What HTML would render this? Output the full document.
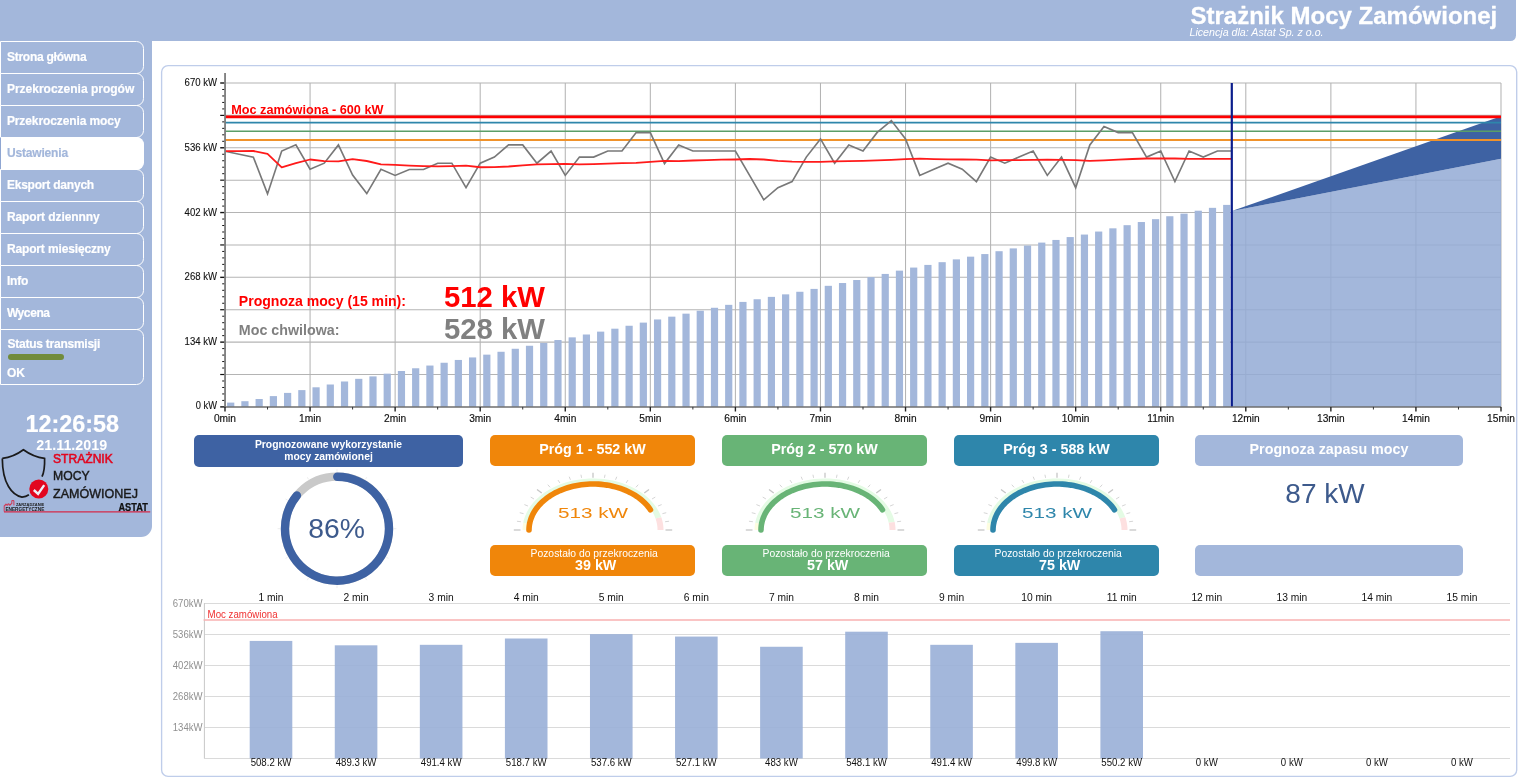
<!DOCTYPE html>
<html><head><meta charset="utf-8"><title>Strażnik Mocy Zamówionej</title>
<style>
html,body{margin:0;padding:0;background:#fff;}
body{width:1529px;height:781px;position:relative;overflow:hidden;will-change:transform;font-family:"Liberation Sans",sans-serif;}
.abs{position:absolute;}
svg text{font-family:"Liberation Sans",sans-serif;}
#hdr{position:absolute;left:0;top:0;width:1516px;height:41px;background:#a3b7db;border-bottom-right-radius:5.5px;}
#side{position:absolute;left:0;top:0;width:152px;height:537px;background:#a3b7db;border-bottom-right-radius:11px;}
#title{position:absolute;left:1190.5px;top:4.1px;font-size:24px;font-weight:bold;color:#fff;-webkit-text-stroke:0.3px #fff;white-space:nowrap;line-height:24px;}
#lic{position:absolute;left:1189.5px;top:27px;font-size:10.67px;font-style:italic;color:#fff;white-space:nowrap;line-height:11px;}
.mi{position:absolute;left:0;width:144px;height:33px;box-sizing:border-box;border:1.1px solid #fff;border-radius:0 7.5px 7.5px 0;color:#fff;font-weight:bold;font-size:12px;-webkit-text-stroke:0.2px currentColor;}
.mi span{position:absolute;left:5.9px;top:8.1px;line-height:14px;white-space:nowrap;}
.mi.sel{background:#fff;color:#a3b7db;border-left-color:#8fa6d2;}
.gbar{position:absolute;left:7px;top:23.6px;width:55.7px;height:6.2px;border-radius:3.1px;background:#718b3b;}
#time{position:absolute;left:0;width:144.6px;top:412.3px;text-align:center;color:#fff;font-weight:bold;font-size:23.4px;line-height:24px;-webkit-text-stroke:0.2px #fff;}
#date{position:absolute;left:0;width:143.5px;top:438px;text-align:center;color:#fff;font-weight:bold;font-size:14.3px;line-height:15px;}
#panel{position:absolute;left:161px;top:65px;width:1353.6px;height:708px;border:1.4px solid #c0cde9;border-radius:6.5px;box-sizing:content-box;}
.box{position:absolute;border-radius:5px;color:#fff;text-align:center;font-weight:bold;}
.box.t{top:435px;height:31px;font-size:14.3px;line-height:28.9px;}
.box.b{top:545px;height:31px;}
.box.b .l1{position:absolute;left:2.6px;right:0;top:2.8px;font-size:10px;font-weight:normal;line-height:12px;transform:scaleX(1.037);}
.box.b .l2{position:absolute;left:6.4px;right:0;top:13.2px;font-size:14.3px;line-height:15px;}
</style></head><body>
<div id="hdr"></div><div id="side"></div>
<div id="title">Strażnik Mocy Zamówionej</div>
<div id="lic">Licencja dla: Astat Sp. z o.o.</div>
<div class="mi" style="top:41.2px"><span style="letter-spacing:-0.25px">Strona główna</span></div>
<div class="mi" style="top:73.2px"><span style="letter-spacing:0px">Przekroczenia progów</span></div>
<div class="mi" style="top:105.2px"><span style="letter-spacing:-0.1px">Przekroczenia mocy</span></div>
<div class="mi sel" style="top:137.2px"><span style="letter-spacing:-0.16px">Ustawienia</span></div>
<div class="mi" style="top:169.2px"><span style="letter-spacing:-0.21px">Eksport danych</span></div>
<div class="mi" style="top:201.2px"><span style="letter-spacing:-0.09px">Raport dziennny</span></div>
<div class="mi" style="top:233.2px"><span style="letter-spacing:-0.14px">Raport miesięczny</span></div>
<div class="mi" style="top:265.2px"><span style="letter-spacing:-0.15px">Info</span></div>
<div class="mi" style="top:297.2px"><span style="letter-spacing:-0.4px">Wycena</span></div>
<div class="mi status" style="top:329.2px;height:55.6px"><span style="top:6.6px;left:6.6px;letter-spacing:-0.25px">Status transmisji</span><div class="gbar"></div><span style="top:35.9px">OK</span></div>
<div id="time">12:26:58</div>
<div id="date">21.11.2019</div>
<svg class="abs" style="left:0;top:440px" width="152" height="80" viewBox="0 440 152 80">
<path d="M2.3,458.4 C9.5,457.6 17,454.6 23.4,449.8 C30,454.6 37.5,457.6 44.6,458.4 C44.8,466 44.2,472 42,476.6" fill="none" stroke="#1a1a1a" stroke-width="1.7" stroke-linejoin="miter"/>
<path d="M2.3,458.4 C2.4,470 4,479 8.5,486.5 C12,492.5 16.5,496 22,497.1 C25,496.8 27,496 28.9,494.7" fill="none" stroke="#1a1a1a" stroke-width="1.7"/>
<circle cx="38.8" cy="489" r="9.5" fill="#e2061f"/>
<path d="M33.8,490 L38.1,493.9 L44.2,485.1" fill="none" stroke="#eef1f8" stroke-width="2.4" stroke-linecap="butt" stroke-linejoin="miter"/>
<text x="53" y="462.5" font-size="13.7" fill="#e2061f" stroke="#e2061f" stroke-width="0.6" textLength="59.8" lengthAdjust="spacingAndGlyphs">STRAŻNIK</text>
<text x="53" y="480.1" font-size="13.5" fill="#1a1a1a" stroke="#1a1a1a" stroke-width="0.45" textLength="36.6" lengthAdjust="spacingAndGlyphs">MOCY</text>
<text x="53" y="497.9" font-size="13.7" fill="#1a1a1a" stroke="#1a1a1a" stroke-width="0.45" textLength="85" lengthAdjust="spacingAndGlyphs">ZAMÓWIONEJ</text>
<text x="118.4" y="510.6" font-size="10.2" font-weight="bold" fill="#111" stroke="#111" stroke-width="0.25" textLength="29.4" lengthAdjust="spacingAndGlyphs">ASTAT</text>
<path d="M4.2,511.6 L4.2,505.6 L5.3,505.6 L5.3,504.2 L6.6,504.2 L6.6,505.2 L7.8,505.2 L7.8,503.9 L9.2,503.9 L9.2,505.2 L10.4,505.2 L10.4,504 L11.8,504 L11.8,500.6 L13.9,500.6 L13.9,505.4" fill="none" stroke="#e2061f" stroke-width="0.7"/>
<text x="15.9" y="505.7" font-size="3.9" font-weight="bold" fill="#1a1a1a" textLength="28.4" lengthAdjust="spacingAndGlyphs">ZARZĄDZANIE</text>
<text x="5.4" y="510.7" font-size="4.9" font-weight="bold" fill="#1a1a1a" textLength="38.9" lengthAdjust="spacingAndGlyphs">ENERGETYCZNE</text>
<line x1="4" y1="511.9" x2="150.2" y2="511.9" stroke="#d42a48" stroke-width="1.3"/>
</svg>
<svg class="abs" style="left:0;top:0" width="1529" height="781" viewBox="0 0 1529 781"><rect x="161.6" y="65.6" width="1355.1" height="710.8" rx="6.5" ry="6.5" fill="none" stroke="#bfcdea" stroke-width="1.35"/></svg>
<svg class="abs" style="left:0;top:0" width="1529" height="781" viewBox="0 0 1529 781">
<line x1="225.0" y1="374.51" x2="1501.0" y2="374.51" stroke="#b4b4b4" stroke-width="1.05"/>
<line x1="225.0" y1="342.12" x2="1501.0" y2="342.12" stroke="#b4b4b4" stroke-width="1.05"/>
<line x1="225.0" y1="309.73" x2="1501.0" y2="309.73" stroke="#b4b4b4" stroke-width="1.05"/>
<line x1="225.0" y1="277.34" x2="1501.0" y2="277.34" stroke="#b4b4b4" stroke-width="1.05"/>
<line x1="225.0" y1="244.95" x2="1501.0" y2="244.95" stroke="#b4b4b4" stroke-width="1.05"/>
<line x1="225.0" y1="212.56" x2="1501.0" y2="212.56" stroke="#b4b4b4" stroke-width="1.05"/>
<line x1="225.0" y1="180.17" x2="1501.0" y2="180.17" stroke="#b4b4b4" stroke-width="1.05"/>
<line x1="225.0" y1="147.78" x2="1501.0" y2="147.78" stroke="#b4b4b4" stroke-width="1.05"/>
<line x1="225.0" y1="115.39" x2="1501.0" y2="115.39" stroke="#b4b4b4" stroke-width="1.05"/>
<line x1="225.0" y1="83.00" x2="1501.0" y2="83.00" stroke="#b4b4b4" stroke-width="1.05"/>
<line x1="310.07" y1="83.0" x2="310.07" y2="406.9" stroke="#b4b4b4" stroke-width="1.05"/>
<line x1="395.13" y1="83.0" x2="395.13" y2="406.9" stroke="#b4b4b4" stroke-width="1.05"/>
<line x1="480.20" y1="83.0" x2="480.20" y2="406.9" stroke="#b4b4b4" stroke-width="1.05"/>
<line x1="565.27" y1="83.0" x2="565.27" y2="406.9" stroke="#b4b4b4" stroke-width="1.05"/>
<line x1="650.33" y1="83.0" x2="650.33" y2="406.9" stroke="#b4b4b4" stroke-width="1.05"/>
<line x1="735.40" y1="83.0" x2="735.40" y2="406.9" stroke="#b4b4b4" stroke-width="1.05"/>
<line x1="820.47" y1="83.0" x2="820.47" y2="406.9" stroke="#b4b4b4" stroke-width="1.05"/>
<line x1="905.53" y1="83.0" x2="905.53" y2="406.9" stroke="#b4b4b4" stroke-width="1.05"/>
<line x1="990.60" y1="83.0" x2="990.60" y2="406.9" stroke="#b4b4b4" stroke-width="1.05"/>
<line x1="1075.67" y1="83.0" x2="1075.67" y2="406.9" stroke="#b4b4b4" stroke-width="1.05"/>
<line x1="1160.73" y1="83.0" x2="1160.73" y2="406.9" stroke="#b4b4b4" stroke-width="1.05"/>
<line x1="1245.80" y1="83.0" x2="1245.80" y2="406.9" stroke="#b4b4b4" stroke-width="1.05"/>
<line x1="1330.87" y1="83.0" x2="1330.87" y2="406.9" stroke="#b4b4b4" stroke-width="1.05"/>
<line x1="1415.93" y1="83.0" x2="1415.93" y2="406.9" stroke="#b4b4b4" stroke-width="1.05"/>
<line x1="1501.00" y1="83.0" x2="1501.00" y2="406.9" stroke="#b4b4b4" stroke-width="1.05"/>
<rect x="227.10" y="402.60" width="7.2" height="4.30" fill="#a3b7db"/>
<rect x="241.33" y="401.20" width="7.2" height="5.70" fill="#a3b7db"/>
<rect x="255.56" y="399.00" width="7.2" height="7.90" fill="#a3b7db"/>
<rect x="269.79" y="396.10" width="7.2" height="10.80" fill="#a3b7db"/>
<rect x="284.02" y="392.90" width="7.2" height="14.00" fill="#a3b7db"/>
<rect x="298.25" y="390.10" width="7.2" height="16.80" fill="#a3b7db"/>
<rect x="312.47" y="387.30" width="7.2" height="19.60" fill="#a3b7db"/>
<rect x="326.70" y="384.50" width="7.2" height="22.40" fill="#a3b7db"/>
<rect x="340.93" y="381.49" width="7.2" height="25.41" fill="#a3b7db"/>
<rect x="355.16" y="378.83" width="7.2" height="28.07" fill="#a3b7db"/>
<rect x="369.39" y="376.39" width="7.2" height="30.51" fill="#a3b7db"/>
<rect x="383.62" y="373.66" width="7.2" height="33.24" fill="#a3b7db"/>
<rect x="397.85" y="371.00" width="7.2" height="35.90" fill="#a3b7db"/>
<rect x="412.08" y="368.27" width="7.2" height="38.63" fill="#a3b7db"/>
<rect x="426.31" y="365.55" width="7.2" height="41.35" fill="#a3b7db"/>
<rect x="440.54" y="362.75" width="7.2" height="44.15" fill="#a3b7db"/>
<rect x="454.76" y="359.95" width="7.2" height="46.95" fill="#a3b7db"/>
<rect x="468.99" y="357.44" width="7.2" height="49.46" fill="#a3b7db"/>
<rect x="483.22" y="354.64" width="7.2" height="52.26" fill="#a3b7db"/>
<rect x="497.45" y="351.77" width="7.2" height="55.13" fill="#a3b7db"/>
<rect x="511.68" y="348.77" width="7.2" height="58.13" fill="#a3b7db"/>
<rect x="525.91" y="345.76" width="7.2" height="61.14" fill="#a3b7db"/>
<rect x="540.14" y="342.96" width="7.2" height="63.94" fill="#a3b7db"/>
<rect x="554.37" y="340.02" width="7.2" height="66.88" fill="#a3b7db"/>
<rect x="568.60" y="337.36" width="7.2" height="69.54" fill="#a3b7db"/>
<rect x="582.82" y="334.50" width="7.2" height="72.40" fill="#a3b7db"/>
<rect x="597.05" y="331.63" width="7.2" height="75.27" fill="#a3b7db"/>
<rect x="611.28" y="328.69" width="7.2" height="78.21" fill="#a3b7db"/>
<rect x="625.51" y="325.75" width="7.2" height="81.15" fill="#a3b7db"/>
<rect x="639.74" y="322.61" width="7.2" height="84.29" fill="#a3b7db"/>
<rect x="653.97" y="319.46" width="7.2" height="87.44" fill="#a3b7db"/>
<rect x="668.20" y="316.66" width="7.2" height="90.24" fill="#a3b7db"/>
<rect x="682.43" y="313.66" width="7.2" height="93.24" fill="#a3b7db"/>
<rect x="696.66" y="310.72" width="7.2" height="96.18" fill="#a3b7db"/>
<rect x="710.89" y="307.78" width="7.2" height="99.12" fill="#a3b7db"/>
<rect x="725.12" y="304.84" width="7.2" height="102.06" fill="#a3b7db"/>
<rect x="739.34" y="301.91" width="7.2" height="104.99" fill="#a3b7db"/>
<rect x="753.57" y="299.25" width="7.2" height="107.65" fill="#a3b7db"/>
<rect x="767.80" y="296.87" width="7.2" height="110.03" fill="#a3b7db"/>
<rect x="782.03" y="294.35" width="7.2" height="112.55" fill="#a3b7db"/>
<rect x="796.26" y="291.77" width="7.2" height="115.13" fill="#a3b7db"/>
<rect x="810.49" y="288.90" width="7.2" height="118.00" fill="#a3b7db"/>
<rect x="824.72" y="285.82" width="7.2" height="121.08" fill="#a3b7db"/>
<rect x="838.95" y="283.03" width="7.2" height="123.87" fill="#a3b7db"/>
<rect x="853.18" y="280.02" width="7.2" height="126.88" fill="#a3b7db"/>
<rect x="867.40" y="277.08" width="7.2" height="129.82" fill="#a3b7db"/>
<rect x="881.63" y="273.93" width="7.2" height="132.97" fill="#a3b7db"/>
<rect x="895.86" y="270.64" width="7.2" height="136.26" fill="#a3b7db"/>
<rect x="910.09" y="267.57" width="7.2" height="139.33" fill="#a3b7db"/>
<rect x="924.32" y="264.91" width="7.2" height="141.99" fill="#a3b7db"/>
<rect x="938.55" y="262.18" width="7.2" height="144.72" fill="#a3b7db"/>
<rect x="952.78" y="259.38" width="7.2" height="147.52" fill="#a3b7db"/>
<rect x="967.01" y="256.66" width="7.2" height="150.24" fill="#a3b7db"/>
<rect x="981.24" y="254.07" width="7.2" height="152.83" fill="#a3b7db"/>
<rect x="995.47" y="251.20" width="7.2" height="155.70" fill="#a3b7db"/>
<rect x="1009.69" y="248.40" width="7.2" height="158.50" fill="#a3b7db"/>
<rect x="1023.92" y="245.54" width="7.2" height="161.36" fill="#a3b7db"/>
<rect x="1038.15" y="242.60" width="7.2" height="164.30" fill="#a3b7db"/>
<rect x="1052.38" y="239.94" width="7.2" height="166.96" fill="#a3b7db"/>
<rect x="1066.61" y="237.07" width="7.2" height="169.83" fill="#a3b7db"/>
<rect x="1080.84" y="234.56" width="7.2" height="172.34" fill="#a3b7db"/>
<rect x="1095.07" y="231.55" width="7.2" height="175.35" fill="#a3b7db"/>
<rect x="1109.30" y="228.33" width="7.2" height="178.57" fill="#a3b7db"/>
<rect x="1123.53" y="225.18" width="7.2" height="181.72" fill="#a3b7db"/>
<rect x="1137.76" y="222.03" width="7.2" height="184.87" fill="#a3b7db"/>
<rect x="1151.98" y="219.17" width="7.2" height="187.73" fill="#a3b7db"/>
<rect x="1166.21" y="216.23" width="7.2" height="190.67" fill="#a3b7db"/>
<rect x="1180.44" y="213.64" width="7.2" height="193.26" fill="#a3b7db"/>
<rect x="1194.67" y="210.71" width="7.2" height="196.19" fill="#a3b7db"/>
<rect x="1208.90" y="207.84" width="7.2" height="199.06" fill="#a3b7db"/>
<rect x="1223.13" y="204.90" width="7.2" height="202.00" fill="#a3b7db"/>
<polygon points="1231.8,211.1 1501.0,158.8 1501.0,406.9 1231.8,406.9" fill="#93aad5" fill-opacity="0.85"/>
<polygon points="1231.8,211.1 1501.0,116.2 1501.0,158.8" fill="#3e62a3"/>
<line x1="225.0" y1="140.05" x2="1501.0" y2="140.05" stroke="#f0922b" stroke-width="1.9"/>
<line x1="225.0" y1="131.34" x2="1501.0" y2="131.34" stroke="#5a9e68" stroke-width="1.5"/>
<line x1="225.0" y1="122.64" x2="1501.0" y2="122.64" stroke="#2e86ab" stroke-width="1.7"/>
<line x1="225.0" y1="116.84" x2="1501.0" y2="116.84" stroke="#ff0000" stroke-width="2.8"/>
<polyline points="225.00,151.20 239.18,154.20 253.36,157.10 267.53,193.90 281.71,151.00 295.89,144.75 310.07,169.25 324.24,163.20 338.42,144.90 352.60,175.10 366.78,193.60 380.96,169.25 395.13,175.40 409.31,169.50 423.49,169.50 437.67,163.20 451.84,163.20 466.02,187.70 480.20,163.20 494.38,157.10 508.56,144.90 522.73,144.90 536.91,163.20 551.09,151.00 565.27,175.40 579.44,157.10 593.62,157.10 607.80,151.00 621.98,151.00 636.16,132.60 650.33,132.60 664.51,163.60 678.69,144.90 692.87,151.00 707.04,151.00 721.22,151.00 735.40,151.00 749.58,175.40 763.76,199.80 777.93,187.70 792.11,181.60 806.29,157.10 820.47,138.90 834.64,163.20 848.82,144.90 863.00,151.00 877.18,132.40 891.36,120.60 905.53,138.90 919.71,175.40 933.89,169.25 948.07,163.20 962.24,169.25 976.42,181.60 990.60,157.10 1004.78,163.20 1018.96,157.10 1033.13,151.00 1047.31,175.40 1061.49,157.10 1075.67,187.70 1089.84,144.90 1104.02,126.50 1118.20,132.60 1132.38,132.60 1146.56,157.10 1160.73,151.00 1174.91,181.60 1189.09,151.00 1203.27,157.10 1217.44,151.00 1231.62,151.00" fill="none" stroke="#787878" stroke-width="1.65" stroke-linejoin="miter"/>
<polyline points="225.00,151.20 239.18,151.10 253.36,151.00 267.53,153.90 281.71,167.40 295.89,163.20 310.07,159.50 324.24,161.10 338.42,161.40 352.60,159.20 366.78,161.00 380.96,164.30 395.13,164.80 409.31,165.60 423.49,166.10 437.67,166.40 451.84,166.10 466.02,165.70 480.20,167.25 494.38,167.10 508.56,166.50 522.73,165.40 536.91,164.40 551.09,164.20 565.27,163.80 579.44,164.40 593.62,164.10 607.80,163.70 621.98,163.20 636.16,162.80 650.33,161.80 664.51,160.90 678.69,161.10 692.87,160.50 707.04,160.10 721.22,159.70 735.40,159.50 749.58,159.00 763.76,159.50 777.93,160.80 792.11,161.60 806.29,161.95 820.47,161.80 834.64,161.40 848.82,161.10 863.00,160.80 877.18,160.40 891.36,159.80 905.53,159.20 919.71,158.65 933.89,159.10 948.07,159.40 962.24,159.50 976.42,159.70 990.60,160.30 1004.78,160.10 1018.96,160.10 1033.13,159.90 1047.31,159.70 1061.49,159.90 1075.67,160.20 1089.84,160.90 1104.02,160.30 1118.20,159.60 1132.38,159.00 1146.56,158.50 1160.73,158.50 1174.91,158.50 1189.09,158.90 1203.27,158.90 1217.44,158.80 1231.62,158.80" fill="none" stroke="#ff1a1a" stroke-width="1.8" stroke-linejoin="round"/>
<line x1="1231.8" y1="83" x2="1231.8" y2="406.9" stroke="#0b1d8c" stroke-width="2.2"/>
<line x1="225.05" y1="73" x2="225.05" y2="407.7" stroke="#7c7c7c" stroke-width="1.8"/>
<line x1="224.1" y1="407.0" x2="1501.0" y2="407.0" stroke="#6e6e6e" stroke-width="1.7"/>
<line x1="220.2" y1="406.90" x2="224.2" y2="406.90" stroke="#111" stroke-width="1.4"/>
<line x1="222.2" y1="400.42" x2="224.2" y2="400.42" stroke="#111" stroke-width="1"/>
<line x1="222.2" y1="393.94" x2="224.2" y2="393.94" stroke="#111" stroke-width="1"/>
<line x1="222.2" y1="387.47" x2="224.2" y2="387.47" stroke="#111" stroke-width="1"/>
<line x1="222.2" y1="380.99" x2="224.2" y2="380.99" stroke="#111" stroke-width="1"/>
<line x1="220.2" y1="374.51" x2="224.2" y2="374.51" stroke="#111" stroke-width="1.2"/>
<line x1="222.2" y1="368.03" x2="224.2" y2="368.03" stroke="#111" stroke-width="1"/>
<line x1="222.2" y1="361.55" x2="224.2" y2="361.55" stroke="#111" stroke-width="1"/>
<line x1="222.2" y1="355.08" x2="224.2" y2="355.08" stroke="#111" stroke-width="1"/>
<line x1="222.2" y1="348.60" x2="224.2" y2="348.60" stroke="#111" stroke-width="1"/>
<line x1="220.2" y1="342.12" x2="224.2" y2="342.12" stroke="#111" stroke-width="1.4"/>
<line x1="222.2" y1="335.64" x2="224.2" y2="335.64" stroke="#111" stroke-width="1"/>
<line x1="222.2" y1="329.16" x2="224.2" y2="329.16" stroke="#111" stroke-width="1"/>
<line x1="222.2" y1="322.69" x2="224.2" y2="322.69" stroke="#111" stroke-width="1"/>
<line x1="222.2" y1="316.21" x2="224.2" y2="316.21" stroke="#111" stroke-width="1"/>
<line x1="220.2" y1="309.73" x2="224.2" y2="309.73" stroke="#111" stroke-width="1.2"/>
<line x1="222.2" y1="303.25" x2="224.2" y2="303.25" stroke="#111" stroke-width="1"/>
<line x1="222.2" y1="296.77" x2="224.2" y2="296.77" stroke="#111" stroke-width="1"/>
<line x1="222.2" y1="290.30" x2="224.2" y2="290.30" stroke="#111" stroke-width="1"/>
<line x1="222.2" y1="283.82" x2="224.2" y2="283.82" stroke="#111" stroke-width="1"/>
<line x1="220.2" y1="277.34" x2="224.2" y2="277.34" stroke="#111" stroke-width="1.4"/>
<line x1="222.2" y1="270.86" x2="224.2" y2="270.86" stroke="#111" stroke-width="1"/>
<line x1="222.2" y1="264.38" x2="224.2" y2="264.38" stroke="#111" stroke-width="1"/>
<line x1="222.2" y1="257.91" x2="224.2" y2="257.91" stroke="#111" stroke-width="1"/>
<line x1="222.2" y1="251.43" x2="224.2" y2="251.43" stroke="#111" stroke-width="1"/>
<line x1="220.2" y1="244.95" x2="224.2" y2="244.95" stroke="#111" stroke-width="1.2"/>
<line x1="222.2" y1="238.47" x2="224.2" y2="238.47" stroke="#111" stroke-width="1"/>
<line x1="222.2" y1="231.99" x2="224.2" y2="231.99" stroke="#111" stroke-width="1"/>
<line x1="222.2" y1="225.52" x2="224.2" y2="225.52" stroke="#111" stroke-width="1"/>
<line x1="222.2" y1="219.04" x2="224.2" y2="219.04" stroke="#111" stroke-width="1"/>
<line x1="220.2" y1="212.56" x2="224.2" y2="212.56" stroke="#111" stroke-width="1.4"/>
<line x1="222.2" y1="206.08" x2="224.2" y2="206.08" stroke="#111" stroke-width="1"/>
<line x1="222.2" y1="199.60" x2="224.2" y2="199.60" stroke="#111" stroke-width="1"/>
<line x1="222.2" y1="193.13" x2="224.2" y2="193.13" stroke="#111" stroke-width="1"/>
<line x1="222.2" y1="186.65" x2="224.2" y2="186.65" stroke="#111" stroke-width="1"/>
<line x1="220.2" y1="180.17" x2="224.2" y2="180.17" stroke="#111" stroke-width="1.2"/>
<line x1="222.2" y1="173.69" x2="224.2" y2="173.69" stroke="#111" stroke-width="1"/>
<line x1="222.2" y1="167.21" x2="224.2" y2="167.21" stroke="#111" stroke-width="1"/>
<line x1="222.2" y1="160.74" x2="224.2" y2="160.74" stroke="#111" stroke-width="1"/>
<line x1="222.2" y1="154.26" x2="224.2" y2="154.26" stroke="#111" stroke-width="1"/>
<line x1="220.2" y1="147.78" x2="224.2" y2="147.78" stroke="#111" stroke-width="1.4"/>
<line x1="222.2" y1="141.30" x2="224.2" y2="141.30" stroke="#111" stroke-width="1"/>
<line x1="222.2" y1="134.82" x2="224.2" y2="134.82" stroke="#111" stroke-width="1"/>
<line x1="222.2" y1="128.35" x2="224.2" y2="128.35" stroke="#111" stroke-width="1"/>
<line x1="222.2" y1="121.87" x2="224.2" y2="121.87" stroke="#111" stroke-width="1"/>
<line x1="220.2" y1="115.39" x2="224.2" y2="115.39" stroke="#111" stroke-width="1.2"/>
<line x1="222.2" y1="108.91" x2="224.2" y2="108.91" stroke="#111" stroke-width="1"/>
<line x1="222.2" y1="102.43" x2="224.2" y2="102.43" stroke="#111" stroke-width="1"/>
<line x1="222.2" y1="95.96" x2="224.2" y2="95.96" stroke="#111" stroke-width="1"/>
<line x1="222.2" y1="89.48" x2="224.2" y2="89.48" stroke="#111" stroke-width="1"/>
<line x1="220.2" y1="83.00" x2="224.2" y2="83.00" stroke="#111" stroke-width="1.4"/>
<line x1="225.00" y1="406.9" x2="225.00" y2="411.5" stroke="#222" stroke-width="1.4"/>
<line x1="267.53" y1="406.9" x2="267.53" y2="409.5" stroke="#333" stroke-width="1"/>
<line x1="310.07" y1="406.9" x2="310.07" y2="411.5" stroke="#222" stroke-width="1.4"/>
<line x1="352.60" y1="406.9" x2="352.60" y2="409.5" stroke="#333" stroke-width="1"/>
<line x1="395.13" y1="406.9" x2="395.13" y2="411.5" stroke="#222" stroke-width="1.4"/>
<line x1="437.67" y1="406.9" x2="437.67" y2="409.5" stroke="#333" stroke-width="1"/>
<line x1="480.20" y1="406.9" x2="480.20" y2="411.5" stroke="#222" stroke-width="1.4"/>
<line x1="522.73" y1="406.9" x2="522.73" y2="409.5" stroke="#333" stroke-width="1"/>
<line x1="565.27" y1="406.9" x2="565.27" y2="411.5" stroke="#222" stroke-width="1.4"/>
<line x1="607.80" y1="406.9" x2="607.80" y2="409.5" stroke="#333" stroke-width="1"/>
<line x1="650.33" y1="406.9" x2="650.33" y2="411.5" stroke="#222" stroke-width="1.4"/>
<line x1="692.87" y1="406.9" x2="692.87" y2="409.5" stroke="#333" stroke-width="1"/>
<line x1="735.40" y1="406.9" x2="735.40" y2="411.5" stroke="#222" stroke-width="1.4"/>
<line x1="777.93" y1="406.9" x2="777.93" y2="409.5" stroke="#333" stroke-width="1"/>
<line x1="820.47" y1="406.9" x2="820.47" y2="411.5" stroke="#222" stroke-width="1.4"/>
<line x1="863.00" y1="406.9" x2="863.00" y2="409.5" stroke="#333" stroke-width="1"/>
<line x1="905.53" y1="406.9" x2="905.53" y2="411.5" stroke="#222" stroke-width="1.4"/>
<line x1="948.07" y1="406.9" x2="948.07" y2="409.5" stroke="#333" stroke-width="1"/>
<line x1="990.60" y1="406.9" x2="990.60" y2="411.5" stroke="#222" stroke-width="1.4"/>
<line x1="1033.13" y1="406.9" x2="1033.13" y2="409.5" stroke="#333" stroke-width="1"/>
<line x1="1075.67" y1="406.9" x2="1075.67" y2="411.5" stroke="#222" stroke-width="1.4"/>
<line x1="1118.20" y1="406.9" x2="1118.20" y2="409.5" stroke="#333" stroke-width="1"/>
<line x1="1160.73" y1="406.9" x2="1160.73" y2="411.5" stroke="#222" stroke-width="1.4"/>
<line x1="1203.27" y1="406.9" x2="1203.27" y2="409.5" stroke="#333" stroke-width="1"/>
<line x1="1245.80" y1="406.9" x2="1245.80" y2="411.5" stroke="#222" stroke-width="1.4"/>
<line x1="1288.33" y1="406.9" x2="1288.33" y2="409.5" stroke="#333" stroke-width="1"/>
<line x1="1330.87" y1="406.9" x2="1330.87" y2="411.5" stroke="#222" stroke-width="1.4"/>
<line x1="1373.40" y1="406.9" x2="1373.40" y2="409.5" stroke="#333" stroke-width="1"/>
<line x1="1415.93" y1="406.9" x2="1415.93" y2="411.5" stroke="#222" stroke-width="1.4"/>
<line x1="1458.47" y1="406.9" x2="1458.47" y2="409.5" stroke="#333" stroke-width="1"/>
<line x1="1501.00" y1="406.9" x2="1501.00" y2="411.5" stroke="#222" stroke-width="1.4"/>
<text x="217" y="409.40" text-anchor="end" font-size="10" fill="#111" stroke="#111" stroke-width="0.12" textLength="21.2" lengthAdjust="spacingAndGlyphs">0 kW</text>
<text x="217" y="345.40" text-anchor="end" font-size="10" fill="#111" stroke="#111" stroke-width="0.12" textLength="32.4" lengthAdjust="spacingAndGlyphs">134 kW</text>
<text x="217" y="280.40" text-anchor="end" font-size="10" fill="#111" stroke="#111" stroke-width="0.12" textLength="32.4" lengthAdjust="spacingAndGlyphs">268 kW</text>
<text x="217" y="215.50" text-anchor="end" font-size="10" fill="#111" stroke="#111" stroke-width="0.12" textLength="32.4" lengthAdjust="spacingAndGlyphs">402 kW</text>
<text x="217" y="150.50" text-anchor="end" font-size="10" fill="#111" stroke="#111" stroke-width="0.12" textLength="32.4" lengthAdjust="spacingAndGlyphs">536 kW</text>
<text x="217" y="85.60" text-anchor="end" font-size="10" fill="#111" stroke="#111" stroke-width="0.12" textLength="32.4" lengthAdjust="spacingAndGlyphs">670 kW</text>
<text x="225.00" y="421.9" text-anchor="middle" font-size="10" fill="#111" stroke="#111" stroke-width="0.15" transform="translate(225.00,0) scale(1.02,1) translate(-225.00,0)">0min</text>
<text x="310.07" y="421.9" text-anchor="middle" font-size="10" fill="#111" stroke="#111" stroke-width="0.15" transform="translate(310.07,0) scale(1.02,1) translate(-310.07,0)">1min</text>
<text x="395.13" y="421.9" text-anchor="middle" font-size="10" fill="#111" stroke="#111" stroke-width="0.15" transform="translate(395.13,0) scale(1.02,1) translate(-395.13,0)">2min</text>
<text x="480.20" y="421.9" text-anchor="middle" font-size="10" fill="#111" stroke="#111" stroke-width="0.15" transform="translate(480.20,0) scale(1.02,1) translate(-480.20,0)">3min</text>
<text x="565.27" y="421.9" text-anchor="middle" font-size="10" fill="#111" stroke="#111" stroke-width="0.15" transform="translate(565.27,0) scale(1.02,1) translate(-565.27,0)">4min</text>
<text x="650.33" y="421.9" text-anchor="middle" font-size="10" fill="#111" stroke="#111" stroke-width="0.15" transform="translate(650.33,0) scale(1.02,1) translate(-650.33,0)">5min</text>
<text x="735.40" y="421.9" text-anchor="middle" font-size="10" fill="#111" stroke="#111" stroke-width="0.15" transform="translate(735.40,0) scale(1.02,1) translate(-735.40,0)">6min</text>
<text x="820.47" y="421.9" text-anchor="middle" font-size="10" fill="#111" stroke="#111" stroke-width="0.15" transform="translate(820.47,0) scale(1.02,1) translate(-820.47,0)">7min</text>
<text x="905.53" y="421.9" text-anchor="middle" font-size="10" fill="#111" stroke="#111" stroke-width="0.15" transform="translate(905.53,0) scale(1.02,1) translate(-905.53,0)">8min</text>
<text x="990.60" y="421.9" text-anchor="middle" font-size="10" fill="#111" stroke="#111" stroke-width="0.15" transform="translate(990.60,0) scale(1.02,1) translate(-990.60,0)">9min</text>
<text x="1075.67" y="421.9" text-anchor="middle" font-size="10" fill="#111" stroke="#111" stroke-width="0.15" transform="translate(1075.67,0) scale(1.02,1) translate(-1075.67,0)">10min</text>
<text x="1160.73" y="421.9" text-anchor="middle" font-size="10" fill="#111" stroke="#111" stroke-width="0.15" transform="translate(1160.73,0) scale(1.02,1) translate(-1160.73,0)">11min</text>
<text x="1245.80" y="421.9" text-anchor="middle" font-size="10" fill="#111" stroke="#111" stroke-width="0.15" transform="translate(1245.80,0) scale(1.02,1) translate(-1245.80,0)">12min</text>
<text x="1330.87" y="421.9" text-anchor="middle" font-size="10" fill="#111" stroke="#111" stroke-width="0.15" transform="translate(1330.87,0) scale(1.02,1) translate(-1330.87,0)">13min</text>
<text x="1415.93" y="421.9" text-anchor="middle" font-size="10" fill="#111" stroke="#111" stroke-width="0.15" transform="translate(1415.93,0) scale(1.02,1) translate(-1415.93,0)">14min</text>
<text x="1501.00" y="421.9" text-anchor="middle" font-size="10" fill="#111" stroke="#111" stroke-width="0.15" transform="translate(1501.00,0) scale(1.02,1) translate(-1501.00,0)">15min</text>
<text x="231.2" y="114.2" font-size="12.7" font-weight="bold" fill="#ff0000">Moc zamówiona - 600 kW</text>
<text x="238.8" y="305.7" font-size="14.1" font-weight="bold" fill="#ff0000" textLength="167.2" lengthAdjust="spacingAndGlyphs">Prognoza mocy (15 min):</text>
<text x="444" y="306.6" font-size="29.3" font-weight="bold" fill="#ff0000">512 kW</text>
<text x="238.8" y="334.6" font-size="14.1" font-weight="bold" fill="#808080" textLength="100.6" lengthAdjust="spacingAndGlyphs">Moc chwilowa:</text>
<text x="444" y="339" font-size="29.3" font-weight="bold" fill="#808080">528 kW</text>
</svg>
<div class="box t" style="left:194px;width:269px;top:435px;height:32px;background:#3e62a3;font-size:10.35px;line-height:12.1px;"><div style="margin-top:3.6px">Prognozowane wykorzystanie<br>mocy zamówionej</div></div>
<div class="box t" style="left:490px;width:205px;background:#f0860a;">Próg 1 - 552 kW</div>
<div class="box t" style="left:722px;width:205px;background:#68b476;">Próg 2 - 570 kW</div>
<div class="box t" style="left:954px;width:205px;background:#2e86ab;">Próg 3 - 588 kW</div>
<div class="box t" style="left:1195px;width:268px;background:#a3b7db;">Prognoza zapasu mocy</div>
<div class="box b" style="left:490px;width:205px;background:#f0860a;"><div class="l1">Pozostało do przekroczenia</div><div class="l2">39 kW</div></div>
<div class="box b" style="left:722px;width:205px;background:#68b476;"><div class="l1">Pozostało do przekroczenia</div><div class="l2">57 kW</div></div>
<div class="box b" style="left:954px;width:205px;background:#2e86ab;"><div class="l1">Pozostało do przekroczenia</div><div class="l2">75 kW</div></div>
<div class="box b" style="left:1195px;width:268px;background:#a3b7db;"></div>
<svg class="abs" style="left:0;top:0" width="1529" height="781" viewBox="0 0 1529 781">
<path d="M522.50,530.00 L522.50,529.82 L522.50,529.64 L522.50,529.46 L522.51,529.28 L522.51,529.10 L522.52,528.92 L522.52,528.74 L522.53,528.56 L522.53,528.38 L522.54,528.20 L522.55,528.02 L522.56,527.84 L522.57,527.66 L522.58,527.48 L522.60,527.30 L522.61,527.13 L522.62,526.95 L522.64,526.77 L522.65,526.59 L522.67,526.41 L522.69,526.23 L522.71,526.05 L522.73,525.87 L522.75,525.69 L522.77,525.51 L522.79,525.33 L522.81,525.15 L522.84,524.97 L522.86,524.80 L522.89,524.62 L522.91,524.44 L522.94,524.26 L522.97,524.08 L523.00,523.90 L523.03,523.72 L523.06,523.55 L523.09,523.37 L523.12,523.19 L523.15,523.01 L523.19,522.83 L529.13,523.53 L529.10,523.69 L529.07,523.85 L529.04,524.01 L529.01,524.17 L528.98,524.33 L528.95,524.49 L528.93,524.66 L528.90,524.82 L528.88,524.98 L528.85,525.14 L528.83,525.30 L528.81,525.46 L528.79,525.62 L528.77,525.79 L528.75,525.95 L528.73,526.11 L528.71,526.27 L528.69,526.43 L528.67,526.59 L528.66,526.76 L528.64,526.92 L528.63,527.08 L528.61,527.24 L528.60,527.40 L528.59,527.57 L528.58,527.73 L528.57,527.89 L528.56,528.05 L528.55,528.21 L528.54,528.38 L528.53,528.54 L528.53,528.70 L528.52,528.86 L528.51,529.03 L528.51,529.19 L528.51,529.35 L528.50,529.51 L528.50,529.68 L528.50,529.84 L528.50,530.00Z" fill="#fdfde0"/>
<path d="M523.19,522.83 L524.03,519.35 L525.19,515.91 L526.68,512.54 L528.48,509.25 L530.58,506.06 L532.98,502.98 L535.66,500.04 L538.62,497.23 L541.83,494.58 L545.28,492.09 L548.96,489.79 L552.85,487.67 L556.92,485.75 L561.17,484.05 L565.57,482.56 L570.09,481.29 L574.73,480.26 L579.45,479.46 L584.24,478.90 L589.06,478.58 L593.91,478.50 L598.75,478.67 L603.57,479.08 L608.33,479.73 L613.02,480.62 L617.62,481.74 L622.10,483.09 L626.44,484.66 L630.63,486.45 L634.64,488.44 L638.45,490.63 L642.04,493.00 L645.41,495.55 L648.52,498.27 L651.38,501.13 L653.96,504.13 L656.25,507.25 L658.24,510.47 L659.92,513.80 L661.29,517.19 L655.47,518.44 L654.22,515.37 L652.68,512.37 L650.86,509.46 L648.77,506.64 L646.41,503.93 L643.80,501.35 L640.95,498.90 L637.87,496.60 L634.58,494.45 L631.09,492.48 L627.43,490.68 L623.60,489.07 L619.62,487.65 L615.53,486.43 L611.32,485.41 L607.03,484.61 L602.67,484.03 L598.26,483.66 L593.83,483.50 L589.40,483.57 L584.98,483.86 L580.60,484.37 L576.28,485.09 L572.04,486.02 L567.90,487.16 L563.88,488.51 L559.99,490.05 L556.26,491.78 L552.71,493.69 L549.34,495.77 L546.18,498.02 L543.24,500.41 L540.54,502.94 L538.09,505.61 L535.89,508.38 L533.97,511.26 L532.32,514.23 L530.96,517.28 L529.90,520.38 L529.13,523.53Z" fill="#e4fbe4"/>
<path d="M661.29,517.19 L661.39,517.51 L661.50,517.82 L661.60,518.13 L661.70,518.45 L661.80,518.77 L661.90,519.08 L661.99,519.40 L662.08,519.71 L662.17,520.03 L662.25,520.35 L662.33,520.67 L662.41,520.99 L662.49,521.31 L662.56,521.62 L662.63,521.94 L662.70,522.26 L662.77,522.58 L662.83,522.90 L662.89,523.22 L662.94,523.55 L663.00,523.87 L663.05,524.19 L663.10,524.51 L663.14,524.83 L663.19,525.15 L663.23,525.48 L663.26,525.80 L663.30,526.12 L663.33,526.44 L663.36,526.77 L663.39,527.09 L663.41,527.41 L663.43,527.74 L663.45,528.06 L663.47,528.38 L663.48,528.71 L663.49,529.03 L663.49,529.35 L663.50,529.68 L663.50,530.00 L657.50,530.00 L657.50,529.71 L657.49,529.42 L657.49,529.12 L657.48,528.83 L657.47,528.54 L657.45,528.25 L657.44,527.96 L657.42,527.66 L657.40,527.37 L657.37,527.08 L657.35,526.79 L657.32,526.50 L657.28,526.21 L657.25,525.91 L657.21,525.62 L657.17,525.33 L657.13,525.04 L657.09,524.75 L657.04,524.46 L656.99,524.17 L656.94,523.88 L656.88,523.59 L656.83,523.30 L656.77,523.01 L656.71,522.73 L656.64,522.44 L656.57,522.15 L656.50,521.86 L656.43,521.57 L656.36,521.29 L656.28,521.00 L656.20,520.71 L656.12,520.43 L656.03,520.14 L655.95,519.86 L655.86,519.57 L655.76,519.29 L655.67,519.00 L655.57,518.72 L655.47,518.44Z" fill="#fde0e0"/>
<line x1="520.50" y1="530.00" x2="513.80" y2="530.00" stroke="#c6c6c6" stroke-width="1.3"/>
<line x1="520.90" y1="521.74" x2="516.95" y2="521.24" stroke="#d0d0d0" stroke-width="0.9"/>
<line x1="523.57" y1="513.68" x2="519.77" y2="512.70" stroke="#d0d0d0" stroke-width="0.9"/>
<line x1="527.96" y1="506.03" x2="524.39" y2="504.58" stroke="#d0d0d0" stroke-width="0.9"/>
<line x1="533.94" y1="498.96" x2="530.71" y2="497.08" stroke="#d0d0d0" stroke-width="0.9"/>
<line x1="541.73" y1="493.02" x2="537.00" y2="489.48" stroke="#c6c6c6" stroke-width="1.3"/>
<line x1="550.09" y1="487.28" x2="547.74" y2="484.70" stroke="#d0d0d0" stroke-width="0.9"/>
<line x1="559.86" y1="482.95" x2="558.04" y2="480.10" stroke="#d0d0d0" stroke-width="0.9"/>
<line x1="570.44" y1="479.78" x2="569.21" y2="476.74" stroke="#d0d0d0" stroke-width="0.9"/>
<line x1="581.58" y1="477.85" x2="580.95" y2="474.69" stroke="#d0d0d0" stroke-width="0.9"/>
<line x1="593.00" y1="477.70" x2="593.00" y2="472.70" stroke="#c6c6c6" stroke-width="1.3"/>
<line x1="604.42" y1="477.85" x2="605.05" y2="474.69" stroke="#d0d0d0" stroke-width="0.9"/>
<line x1="615.56" y1="479.78" x2="616.79" y2="476.74" stroke="#d0d0d0" stroke-width="0.9"/>
<line x1="626.14" y1="482.95" x2="627.96" y2="480.10" stroke="#d0d0d0" stroke-width="0.9"/>
<line x1="635.91" y1="487.28" x2="638.26" y2="484.70" stroke="#d0d0d0" stroke-width="0.9"/>
<line x1="644.27" y1="493.02" x2="649.00" y2="489.48" stroke="#c6c6c6" stroke-width="1.3"/>
<line x1="652.06" y1="498.96" x2="655.29" y2="497.08" stroke="#d0d0d0" stroke-width="0.9"/>
<line x1="658.04" y1="506.03" x2="661.61" y2="504.58" stroke="#d0d0d0" stroke-width="0.9"/>
<line x1="662.43" y1="513.68" x2="666.23" y2="512.70" stroke="#d0d0d0" stroke-width="0.9"/>
<line x1="665.10" y1="521.74" x2="669.05" y2="521.24" stroke="#d0d0d0" stroke-width="0.9"/>
<line x1="665.50" y1="530.00" x2="672.20" y2="530.00" stroke="#c6c6c6" stroke-width="1.3"/>
<path d="M529.00,530.00 L529.06,527.94 L529.26,525.89 L529.58,523.84 L530.02,521.81 L530.60,519.79 L531.29,517.79 L532.12,515.82 L533.06,513.88 L534.12,511.96 L535.31,510.09 L536.60,508.25 L538.02,506.46 L539.54,504.71 L541.16,503.02 L542.90,501.38 L544.73,499.80 L546.66,498.27 L548.68,496.82 L550.79,495.42 L552.98,494.10 L555.26,492.85 L557.61,491.67 L560.03,490.57 L562.52,489.55 L565.07,488.61 L567.67,487.75 L570.33,486.98 L573.03,486.30 L575.77,485.70 L578.55,485.19 L581.35,484.77 L584.18,484.44 L587.03,484.20 L589.88,484.05 L592.75,484.00 L595.61,484.04 L598.47,484.17 L601.32,484.39 L604.15,484.70 L606.96,485.11 L609.74,485.60 L612.49,486.18 L615.20,486.86 L617.86,487.61 L620.48,488.46 L623.04,489.38 L625.54,490.39 L627.97,491.47 L630.33,492.64 L632.62,493.88 L634.83,495.19 L636.96,496.57 L639.00,498.01 L640.94,499.53 L642.79,501.10 L644.54,502.73 L646.19,504.41 L647.73,506.15 L649.16,507.93 L650.47,509.76" fill="none" stroke="#f0860a" stroke-width="5.6" stroke-linecap="round"/>
<text x="593" y="517.8" text-anchor="middle" font-size="15" fill="#f0860a" textLength="70" lengthAdjust="spacingAndGlyphs">513 kW</text>
<path d="M754.50,530.00 L754.50,529.82 L754.50,529.64 L754.50,529.46 L754.51,529.28 L754.51,529.10 L754.52,528.92 L754.52,528.74 L754.53,528.56 L754.53,528.38 L754.54,528.20 L754.55,528.02 L754.56,527.84 L754.57,527.66 L754.58,527.48 L754.60,527.30 L754.61,527.13 L754.62,526.95 L754.64,526.77 L754.65,526.59 L754.67,526.41 L754.69,526.23 L754.71,526.05 L754.73,525.87 L754.75,525.69 L754.77,525.51 L754.79,525.33 L754.81,525.15 L754.84,524.97 L754.86,524.80 L754.89,524.62 L754.91,524.44 L754.94,524.26 L754.97,524.08 L755.00,523.90 L755.03,523.72 L755.06,523.55 L755.09,523.37 L755.12,523.19 L755.15,523.01 L755.19,522.83 L761.13,523.53 L761.10,523.69 L761.07,523.85 L761.04,524.01 L761.01,524.17 L760.98,524.33 L760.95,524.49 L760.93,524.66 L760.90,524.82 L760.88,524.98 L760.85,525.14 L760.83,525.30 L760.81,525.46 L760.79,525.62 L760.77,525.79 L760.75,525.95 L760.73,526.11 L760.71,526.27 L760.69,526.43 L760.67,526.59 L760.66,526.76 L760.64,526.92 L760.63,527.08 L760.61,527.24 L760.60,527.40 L760.59,527.57 L760.58,527.73 L760.57,527.89 L760.56,528.05 L760.55,528.21 L760.54,528.38 L760.53,528.54 L760.53,528.70 L760.52,528.86 L760.51,529.03 L760.51,529.19 L760.51,529.35 L760.50,529.51 L760.50,529.68 L760.50,529.84 L760.50,530.00Z" fill="#fdfde0"/>
<path d="M755.19,522.83 L756.06,519.23 L757.28,515.68 L758.85,512.20 L760.75,508.81 L762.97,505.53 L765.51,502.37 L768.35,499.35 L771.47,496.49 L774.87,493.79 L778.52,491.28 L782.40,488.97 L786.50,486.86 L790.79,484.97 L795.26,483.31 L799.88,481.88 L804.62,480.70 L809.47,479.76 L814.40,479.09 L819.38,478.66 L824.38,478.50 L829.40,478.60 L834.39,478.96 L839.33,479.57 L844.20,480.45 L848.97,481.57 L853.62,482.93 L858.12,484.54 L862.46,486.37 L866.61,488.43 L870.55,490.69 L874.26,493.16 L877.72,495.81 L880.91,498.63 L883.82,501.61 L886.44,504.74 L888.74,507.99 L890.72,511.36 L892.37,514.81 L893.67,518.35 L894.63,521.94 L888.71,522.73 L887.83,519.48 L886.63,516.29 L885.12,513.17 L883.31,510.13 L881.21,507.19 L878.82,504.37 L876.15,501.68 L873.23,499.13 L870.07,496.73 L866.67,494.51 L863.07,492.46 L859.28,490.61 L855.31,488.95 L851.18,487.50 L846.93,486.27 L842.56,485.26 L838.11,484.47 L833.59,483.91 L829.02,483.59 L824.44,483.50 L819.86,483.65 L815.30,484.03 L810.79,484.64 L806.36,485.48 L802.02,486.55 L797.79,487.84 L793.71,489.34 L789.78,491.05 L786.03,492.95 L782.47,495.04 L779.13,497.31 L776.03,499.74 L773.17,502.32 L770.57,505.05 L768.25,507.90 L766.21,510.86 L764.48,513.92 L763.05,517.07 L761.93,520.27 L761.13,523.53Z" fill="#e4fbe4"/>
<path d="M894.63,521.94 L894.67,522.14 L894.72,522.34 L894.76,522.54 L894.80,522.74 L894.84,522.94 L894.87,523.14 L894.91,523.34 L894.94,523.55 L894.98,523.75 L895.01,523.95 L895.04,524.15 L895.07,524.35 L895.10,524.55 L895.13,524.75 L895.16,524.95 L895.19,525.15 L895.21,525.35 L895.24,525.56 L895.26,525.76 L895.28,525.96 L895.30,526.16 L895.32,526.36 L895.34,526.56 L895.36,526.77 L895.38,526.97 L895.39,527.17 L895.41,527.37 L895.42,527.57 L895.43,527.78 L895.45,527.98 L895.46,528.18 L895.47,528.38 L895.47,528.58 L895.48,528.79 L895.49,528.99 L895.49,529.19 L895.50,529.39 L895.50,529.60 L895.50,529.80 L895.50,530.00 L889.50,530.00 L889.50,529.82 L889.50,529.63 L889.50,529.45 L889.49,529.27 L889.49,529.09 L889.48,528.90 L889.48,528.72 L889.47,528.54 L889.46,528.36 L889.45,528.17 L889.44,527.99 L889.43,527.81 L889.42,527.63 L889.40,527.44 L889.39,527.26 L889.37,527.08 L889.36,526.90 L889.34,526.72 L889.32,526.53 L889.30,526.35 L889.28,526.17 L889.26,525.99 L889.24,525.81 L889.21,525.62 L889.19,525.44 L889.16,525.26 L889.14,525.08 L889.11,524.90 L889.08,524.72 L889.05,524.53 L889.02,524.35 L888.99,524.17 L888.96,523.99 L888.93,523.81 L888.89,523.63 L888.86,523.45 L888.82,523.27 L888.78,523.09 L888.75,522.91 L888.71,522.73Z" fill="#fde0e0"/>
<line x1="752.50" y1="530.00" x2="745.80" y2="530.00" stroke="#c6c6c6" stroke-width="1.3"/>
<line x1="752.90" y1="521.74" x2="748.95" y2="521.24" stroke="#d0d0d0" stroke-width="0.9"/>
<line x1="755.57" y1="513.68" x2="751.77" y2="512.70" stroke="#d0d0d0" stroke-width="0.9"/>
<line x1="759.96" y1="506.03" x2="756.39" y2="504.58" stroke="#d0d0d0" stroke-width="0.9"/>
<line x1="765.94" y1="498.96" x2="762.71" y2="497.08" stroke="#d0d0d0" stroke-width="0.9"/>
<line x1="773.73" y1="493.02" x2="769.00" y2="489.48" stroke="#c6c6c6" stroke-width="1.3"/>
<line x1="782.09" y1="487.28" x2="779.74" y2="484.70" stroke="#d0d0d0" stroke-width="0.9"/>
<line x1="791.86" y1="482.95" x2="790.04" y2="480.10" stroke="#d0d0d0" stroke-width="0.9"/>
<line x1="802.44" y1="479.78" x2="801.21" y2="476.74" stroke="#d0d0d0" stroke-width="0.9"/>
<line x1="813.58" y1="477.85" x2="812.95" y2="474.69" stroke="#d0d0d0" stroke-width="0.9"/>
<line x1="825.00" y1="477.70" x2="825.00" y2="472.70" stroke="#c6c6c6" stroke-width="1.3"/>
<line x1="836.42" y1="477.85" x2="837.05" y2="474.69" stroke="#d0d0d0" stroke-width="0.9"/>
<line x1="847.56" y1="479.78" x2="848.79" y2="476.74" stroke="#d0d0d0" stroke-width="0.9"/>
<line x1="858.14" y1="482.95" x2="859.96" y2="480.10" stroke="#d0d0d0" stroke-width="0.9"/>
<line x1="867.91" y1="487.28" x2="870.26" y2="484.70" stroke="#d0d0d0" stroke-width="0.9"/>
<line x1="876.27" y1="493.02" x2="881.00" y2="489.48" stroke="#c6c6c6" stroke-width="1.3"/>
<line x1="884.06" y1="498.96" x2="887.29" y2="497.08" stroke="#d0d0d0" stroke-width="0.9"/>
<line x1="890.04" y1="506.03" x2="893.61" y2="504.58" stroke="#d0d0d0" stroke-width="0.9"/>
<line x1="894.43" y1="513.68" x2="898.23" y2="512.70" stroke="#d0d0d0" stroke-width="0.9"/>
<line x1="897.10" y1="521.74" x2="901.05" y2="521.24" stroke="#d0d0d0" stroke-width="0.9"/>
<line x1="897.50" y1="530.00" x2="904.20" y2="530.00" stroke="#c6c6c6" stroke-width="1.3"/>
<path d="M761.00,530.00 L761.06,527.94 L761.26,525.89 L761.58,523.84 L762.02,521.81 L762.60,519.79 L763.29,517.79 L764.12,515.82 L765.06,513.88 L766.12,511.96 L767.31,510.09 L768.60,508.25 L770.02,506.46 L771.54,504.71 L773.16,503.02 L774.90,501.38 L776.73,499.80 L778.66,498.27 L780.68,496.82 L782.79,495.42 L784.98,494.10 L787.26,492.85 L789.61,491.67 L792.03,490.57 L794.52,489.55 L797.07,488.61 L799.67,487.75 L802.33,486.98 L805.03,486.30 L807.77,485.70 L810.55,485.19 L813.35,484.77 L816.18,484.44 L819.03,484.20 L821.88,484.05 L824.75,484.00 L827.61,484.04 L830.47,484.17 L833.32,484.39 L836.15,484.70 L838.96,485.11 L841.74,485.60 L844.49,486.18 L847.20,486.86 L849.86,487.61 L852.48,488.46 L855.04,489.38 L857.54,490.39 L859.97,491.47 L862.33,492.64 L864.62,493.88 L866.83,495.19 L868.96,496.57 L871.00,498.01 L872.94,499.53 L874.79,501.10 L876.54,502.73 L878.19,504.41 L879.73,506.15 L881.16,507.93 L882.47,509.76" fill="none" stroke="#68b476" stroke-width="5.6" stroke-linecap="round"/>
<text x="825" y="517.8" text-anchor="middle" font-size="15" fill="#68b476" textLength="70" lengthAdjust="spacingAndGlyphs">513 kW</text>
<path d="M986.50,530.00 L986.50,529.82 L986.50,529.64 L986.50,529.46 L986.51,529.28 L986.51,529.10 L986.52,528.92 L986.52,528.74 L986.53,528.56 L986.53,528.38 L986.54,528.20 L986.55,528.02 L986.56,527.84 L986.57,527.66 L986.58,527.48 L986.60,527.30 L986.61,527.13 L986.62,526.95 L986.64,526.77 L986.65,526.59 L986.67,526.41 L986.69,526.23 L986.71,526.05 L986.73,525.87 L986.75,525.69 L986.77,525.51 L986.79,525.33 L986.81,525.15 L986.84,524.97 L986.86,524.80 L986.89,524.62 L986.91,524.44 L986.94,524.26 L986.97,524.08 L987.00,523.90 L987.03,523.72 L987.06,523.55 L987.09,523.37 L987.12,523.19 L987.15,523.01 L987.19,522.83 L993.13,523.53 L993.10,523.69 L993.07,523.85 L993.04,524.01 L993.01,524.17 L992.98,524.33 L992.95,524.49 L992.93,524.66 L992.90,524.82 L992.88,524.98 L992.85,525.14 L992.83,525.30 L992.81,525.46 L992.79,525.62 L992.77,525.79 L992.75,525.95 L992.73,526.11 L992.71,526.27 L992.69,526.43 L992.67,526.59 L992.66,526.76 L992.64,526.92 L992.63,527.08 L992.61,527.24 L992.60,527.40 L992.59,527.57 L992.58,527.73 L992.57,527.89 L992.56,528.05 L992.55,528.21 L992.54,528.38 L992.53,528.54 L992.53,528.70 L992.52,528.86 L992.51,529.03 L992.51,529.19 L992.51,529.35 L992.50,529.51 L992.50,529.68 L992.50,529.84 L992.50,530.00Z" fill="#fdfde0"/>
<path d="M987.19,522.83 L988.03,519.35 L989.19,515.91 L990.68,512.54 L992.48,509.25 L994.58,506.06 L996.98,502.98 L999.66,500.04 L1002.62,497.23 L1005.83,494.58 L1009.28,492.09 L1012.96,489.79 L1016.85,487.67 L1020.92,485.75 L1025.17,484.05 L1029.57,482.56 L1034.09,481.29 L1038.73,480.26 L1043.45,479.46 L1048.24,478.90 L1053.06,478.58 L1057.91,478.50 L1062.75,478.67 L1067.57,479.08 L1072.33,479.73 L1077.02,480.62 L1081.62,481.74 L1086.10,483.09 L1090.44,484.66 L1094.63,486.45 L1098.64,488.44 L1102.45,490.63 L1106.04,493.00 L1109.41,495.55 L1112.52,498.27 L1115.38,501.13 L1117.96,504.13 L1120.25,507.25 L1122.24,510.47 L1123.92,513.80 L1125.29,517.19 L1119.47,518.44 L1118.22,515.37 L1116.68,512.37 L1114.86,509.46 L1112.77,506.64 L1110.41,503.93 L1107.80,501.35 L1104.95,498.90 L1101.87,496.60 L1098.58,494.45 L1095.09,492.48 L1091.43,490.68 L1087.60,489.07 L1083.62,487.65 L1079.53,486.43 L1075.32,485.41 L1071.03,484.61 L1066.67,484.03 L1062.26,483.66 L1057.83,483.50 L1053.40,483.57 L1048.98,483.86 L1044.60,484.37 L1040.28,485.09 L1036.04,486.02 L1031.90,487.16 L1027.88,488.51 L1023.99,490.05 L1020.26,491.78 L1016.71,493.69 L1013.34,495.77 L1010.18,498.02 L1007.24,500.41 L1004.54,502.94 L1002.09,505.61 L999.89,508.38 L997.97,511.26 L996.32,514.23 L994.96,517.28 L993.90,520.38 L993.13,523.53Z" fill="#e4fbe4"/>
<path d="M1125.29,517.19 L1125.39,517.51 L1125.50,517.82 L1125.60,518.13 L1125.70,518.45 L1125.80,518.77 L1125.90,519.08 L1125.99,519.40 L1126.08,519.71 L1126.17,520.03 L1126.25,520.35 L1126.33,520.67 L1126.41,520.99 L1126.49,521.31 L1126.56,521.62 L1126.63,521.94 L1126.70,522.26 L1126.77,522.58 L1126.83,522.90 L1126.89,523.22 L1126.94,523.55 L1127.00,523.87 L1127.05,524.19 L1127.10,524.51 L1127.14,524.83 L1127.19,525.15 L1127.23,525.48 L1127.26,525.80 L1127.30,526.12 L1127.33,526.44 L1127.36,526.77 L1127.39,527.09 L1127.41,527.41 L1127.43,527.74 L1127.45,528.06 L1127.47,528.38 L1127.48,528.71 L1127.49,529.03 L1127.49,529.35 L1127.50,529.68 L1127.50,530.00 L1121.50,530.00 L1121.50,529.71 L1121.49,529.42 L1121.49,529.12 L1121.48,528.83 L1121.47,528.54 L1121.45,528.25 L1121.44,527.96 L1121.42,527.66 L1121.40,527.37 L1121.37,527.08 L1121.35,526.79 L1121.32,526.50 L1121.28,526.21 L1121.25,525.91 L1121.21,525.62 L1121.17,525.33 L1121.13,525.04 L1121.09,524.75 L1121.04,524.46 L1120.99,524.17 L1120.94,523.88 L1120.88,523.59 L1120.83,523.30 L1120.77,523.01 L1120.71,522.73 L1120.64,522.44 L1120.57,522.15 L1120.50,521.86 L1120.43,521.57 L1120.36,521.29 L1120.28,521.00 L1120.20,520.71 L1120.12,520.43 L1120.03,520.14 L1119.95,519.86 L1119.86,519.57 L1119.76,519.29 L1119.67,519.00 L1119.57,518.72 L1119.47,518.44Z" fill="#fde0e0"/>
<line x1="984.50" y1="530.00" x2="977.80" y2="530.00" stroke="#c6c6c6" stroke-width="1.3"/>
<line x1="984.90" y1="521.74" x2="980.95" y2="521.24" stroke="#d0d0d0" stroke-width="0.9"/>
<line x1="987.57" y1="513.68" x2="983.77" y2="512.70" stroke="#d0d0d0" stroke-width="0.9"/>
<line x1="991.96" y1="506.03" x2="988.39" y2="504.58" stroke="#d0d0d0" stroke-width="0.9"/>
<line x1="997.94" y1="498.96" x2="994.71" y2="497.08" stroke="#d0d0d0" stroke-width="0.9"/>
<line x1="1005.73" y1="493.02" x2="1001.00" y2="489.48" stroke="#c6c6c6" stroke-width="1.3"/>
<line x1="1014.09" y1="487.28" x2="1011.74" y2="484.70" stroke="#d0d0d0" stroke-width="0.9"/>
<line x1="1023.86" y1="482.95" x2="1022.04" y2="480.10" stroke="#d0d0d0" stroke-width="0.9"/>
<line x1="1034.44" y1="479.78" x2="1033.21" y2="476.74" stroke="#d0d0d0" stroke-width="0.9"/>
<line x1="1045.58" y1="477.85" x2="1044.95" y2="474.69" stroke="#d0d0d0" stroke-width="0.9"/>
<line x1="1057.00" y1="477.70" x2="1057.00" y2="472.70" stroke="#c6c6c6" stroke-width="1.3"/>
<line x1="1068.42" y1="477.85" x2="1069.05" y2="474.69" stroke="#d0d0d0" stroke-width="0.9"/>
<line x1="1079.56" y1="479.78" x2="1080.79" y2="476.74" stroke="#d0d0d0" stroke-width="0.9"/>
<line x1="1090.14" y1="482.95" x2="1091.96" y2="480.10" stroke="#d0d0d0" stroke-width="0.9"/>
<line x1="1099.91" y1="487.28" x2="1102.26" y2="484.70" stroke="#d0d0d0" stroke-width="0.9"/>
<line x1="1108.27" y1="493.02" x2="1113.00" y2="489.48" stroke="#c6c6c6" stroke-width="1.3"/>
<line x1="1116.06" y1="498.96" x2="1119.29" y2="497.08" stroke="#d0d0d0" stroke-width="0.9"/>
<line x1="1122.04" y1="506.03" x2="1125.61" y2="504.58" stroke="#d0d0d0" stroke-width="0.9"/>
<line x1="1126.43" y1="513.68" x2="1130.23" y2="512.70" stroke="#d0d0d0" stroke-width="0.9"/>
<line x1="1129.10" y1="521.74" x2="1133.05" y2="521.24" stroke="#d0d0d0" stroke-width="0.9"/>
<line x1="1129.50" y1="530.00" x2="1136.20" y2="530.00" stroke="#c6c6c6" stroke-width="1.3"/>
<path d="M993.00,530.00 L993.06,527.94 L993.26,525.89 L993.58,523.84 L994.02,521.81 L994.60,519.79 L995.29,517.79 L996.12,515.82 L997.06,513.88 L998.12,511.96 L999.31,510.09 L1000.60,508.25 L1002.02,506.46 L1003.54,504.71 L1005.16,503.02 L1006.90,501.38 L1008.73,499.80 L1010.66,498.27 L1012.68,496.82 L1014.79,495.42 L1016.98,494.10 L1019.26,492.85 L1021.61,491.67 L1024.03,490.57 L1026.52,489.55 L1029.07,488.61 L1031.67,487.75 L1034.33,486.98 L1037.03,486.30 L1039.77,485.70 L1042.55,485.19 L1045.35,484.77 L1048.18,484.44 L1051.03,484.20 L1053.88,484.05 L1056.75,484.00 L1059.61,484.04 L1062.47,484.17 L1065.32,484.39 L1068.15,484.70 L1070.96,485.11 L1073.74,485.60 L1076.49,486.18 L1079.20,486.86 L1081.86,487.61 L1084.48,488.46 L1087.04,489.38 L1089.54,490.39 L1091.97,491.47 L1094.33,492.64 L1096.62,493.88 L1098.83,495.19 L1100.96,496.57 L1103.00,498.01 L1104.94,499.53 L1106.79,501.10 L1108.54,502.73 L1110.19,504.41 L1111.73,506.15 L1113.16,507.93 L1114.47,509.76" fill="none" stroke="#2e86ab" stroke-width="5.6" stroke-linecap="round"/>
<text x="1057" y="517.8" text-anchor="middle" font-size="15" fill="#2e86ab" textLength="70" lengthAdjust="spacingAndGlyphs">513 kW</text>
<circle cx="337" cy="528.7" r="52.0" fill="none" stroke="#c9c9c9" stroke-width="8.2"/>
<path d="M337.27,476.70 A52.0,52.0 0 1 1 296.93,495.55" fill="none" stroke="#3e62a3" stroke-width="8.4" stroke-linecap="round"/>
<line x1="337.00" y1="471.80" x2="337.00" y2="469.30" stroke="#ebebeb" stroke-width="0.9"/>
<line x1="365.45" y1="479.42" x2="366.70" y2="477.26" stroke="#ebebeb" stroke-width="0.9"/>
<line x1="386.28" y1="500.25" x2="388.44" y2="499.00" stroke="#ebebeb" stroke-width="0.9"/>
<line x1="393.90" y1="528.70" x2="396.40" y2="528.70" stroke="#ebebeb" stroke-width="0.9"/>
<line x1="386.28" y1="557.15" x2="388.44" y2="558.40" stroke="#ebebeb" stroke-width="0.9"/>
<line x1="365.45" y1="577.98" x2="366.70" y2="580.14" stroke="#ebebeb" stroke-width="0.9"/>
<line x1="337.00" y1="585.60" x2="337.00" y2="588.10" stroke="#ebebeb" stroke-width="0.9"/>
<line x1="308.55" y1="577.98" x2="307.30" y2="580.14" stroke="#ebebeb" stroke-width="0.9"/>
<line x1="287.72" y1="557.15" x2="285.56" y2="558.40" stroke="#ebebeb" stroke-width="0.9"/>
<line x1="280.10" y1="528.70" x2="277.60" y2="528.70" stroke="#ebebeb" stroke-width="0.9"/>
<line x1="287.72" y1="500.25" x2="285.56" y2="499.00" stroke="#ebebeb" stroke-width="0.9"/>
<line x1="308.55" y1="479.42" x2="307.30" y2="477.26" stroke="#ebebeb" stroke-width="0.9"/>
<text x="336.6" y="538.1" text-anchor="middle" font-size="28.3" fill="#3d5a8c">86%</text>
<text x="1325" y="503.3" text-anchor="middle" font-size="28" fill="#3d5a8c">87 kW</text>
</svg>
<svg class="abs" style="left:0;top:0" width="1529" height="781" viewBox="0 0 1529 781">
<line x1="204.4" y1="603.50" x2="1510.0" y2="603.50" stroke="#dadada" stroke-width="1"/>
<text x="202.6" y="606.60" text-anchor="end" font-size="10.6" fill="#909090" textLength="29.8" lengthAdjust="spacingAndGlyphs">670kW</text>
<line x1="204.4" y1="634.50" x2="1510.0" y2="634.50" stroke="#dadada" stroke-width="1"/>
<text x="202.6" y="637.60" text-anchor="end" font-size="10.6" fill="#909090" textLength="29.8" lengthAdjust="spacingAndGlyphs">536kW</text>
<line x1="204.4" y1="665.50" x2="1510.0" y2="665.50" stroke="#dadada" stroke-width="1"/>
<text x="202.6" y="668.60" text-anchor="end" font-size="10.6" fill="#909090" textLength="29.8" lengthAdjust="spacingAndGlyphs">402kW</text>
<line x1="204.4" y1="696.50" x2="1510.0" y2="696.50" stroke="#dadada" stroke-width="1"/>
<text x="202.6" y="699.60" text-anchor="end" font-size="10.6" fill="#909090" textLength="29.8" lengthAdjust="spacingAndGlyphs">268kW</text>
<line x1="204.4" y1="727.50" x2="1510.0" y2="727.50" stroke="#dadada" stroke-width="1"/>
<text x="202.6" y="730.60" text-anchor="end" font-size="10.6" fill="#909090" textLength="29.8" lengthAdjust="spacingAndGlyphs">134kW</text>
<line x1="204.4" y1="758.50" x2="1510.0" y2="758.50" stroke="#dadada" stroke-width="1"/>
<line x1="204.4" y1="603" x2="204.4" y2="758.5" stroke="#c8c8c8" stroke-width="1"/>
<line x1="203.6" y1="619.99" x2="1510.0" y2="619.99" stroke="#f9b0b0" stroke-width="1.5"/>
<text x="207.6" y="618.2" font-size="11.2" fill="#f03030" textLength="70" lengthAdjust="spacingAndGlyphs">Moc zamówiona</text>
<rect x="249.70" y="640.93" width="42.6" height="117.57" fill="#99afd7" fill-opacity="0.9"/>
<text x="271.00" y="765.9" text-anchor="middle" font-size="10" fill="#111" transform="translate(271.00,0) scale(0.965,1) translate(-271.00,0)">508.2 kW</text>
<text x="271.00" y="601" text-anchor="middle" font-size="10.25" fill="#111">1 min</text>
<rect x="334.77" y="645.30" width="42.6" height="113.20" fill="#99afd7" fill-opacity="0.9"/>
<text x="356.07" y="765.9" text-anchor="middle" font-size="10" fill="#111" transform="translate(356.07,0) scale(0.965,1) translate(-356.07,0)">489.3 kW</text>
<text x="356.07" y="601" text-anchor="middle" font-size="10.25" fill="#111">2 min</text>
<rect x="419.84" y="644.82" width="42.6" height="113.68" fill="#99afd7" fill-opacity="0.9"/>
<text x="441.14" y="765.9" text-anchor="middle" font-size="10" fill="#111" transform="translate(441.14,0) scale(0.965,1) translate(-441.14,0)">491.4 kW</text>
<text x="441.14" y="601" text-anchor="middle" font-size="10.25" fill="#111">3 min</text>
<rect x="504.91" y="638.50" width="42.6" height="120.00" fill="#99afd7" fill-opacity="0.9"/>
<text x="526.21" y="765.9" text-anchor="middle" font-size="10" fill="#111" transform="translate(526.21,0) scale(0.965,1) translate(-526.21,0)">518.7 kW</text>
<text x="526.21" y="601" text-anchor="middle" font-size="10.25" fill="#111">4 min</text>
<rect x="589.98" y="634.13" width="42.6" height="124.37" fill="#99afd7" fill-opacity="0.9"/>
<text x="611.28" y="765.9" text-anchor="middle" font-size="10" fill="#111" transform="translate(611.28,0) scale(0.965,1) translate(-611.28,0)">537.6 kW</text>
<text x="611.28" y="601" text-anchor="middle" font-size="10.25" fill="#111">5 min</text>
<rect x="675.05" y="636.56" width="42.6" height="121.94" fill="#99afd7" fill-opacity="0.9"/>
<text x="696.35" y="765.9" text-anchor="middle" font-size="10" fill="#111" transform="translate(696.35,0) scale(0.965,1) translate(-696.35,0)">527.1 kW</text>
<text x="696.35" y="601" text-anchor="middle" font-size="10.25" fill="#111">6 min</text>
<rect x="760.12" y="646.76" width="42.6" height="111.74" fill="#99afd7" fill-opacity="0.9"/>
<text x="781.42" y="765.9" text-anchor="middle" font-size="10" fill="#111" transform="translate(781.42,0) scale(0.965,1) translate(-781.42,0)">483 kW</text>
<text x="781.42" y="601" text-anchor="middle" font-size="10.25" fill="#111">7 min</text>
<rect x="845.19" y="631.70" width="42.6" height="126.80" fill="#99afd7" fill-opacity="0.9"/>
<text x="866.49" y="765.9" text-anchor="middle" font-size="10" fill="#111" transform="translate(866.49,0) scale(0.965,1) translate(-866.49,0)">548.1 kW</text>
<text x="866.49" y="601" text-anchor="middle" font-size="10.25" fill="#111">8 min</text>
<rect x="930.26" y="644.82" width="42.6" height="113.68" fill="#99afd7" fill-opacity="0.9"/>
<text x="951.56" y="765.9" text-anchor="middle" font-size="10" fill="#111" transform="translate(951.56,0) scale(0.965,1) translate(-951.56,0)">491.4 kW</text>
<text x="951.56" y="601" text-anchor="middle" font-size="10.25" fill="#111">9 min</text>
<rect x="1015.33" y="642.87" width="42.6" height="115.63" fill="#99afd7" fill-opacity="0.9"/>
<text x="1036.63" y="765.9" text-anchor="middle" font-size="10" fill="#111" transform="translate(1036.63,0) scale(0.965,1) translate(-1036.63,0)">499.8 kW</text>
<text x="1036.63" y="601" text-anchor="middle" font-size="10.25" fill="#111">10 min</text>
<rect x="1100.40" y="631.21" width="42.6" height="127.29" fill="#99afd7" fill-opacity="0.9"/>
<text x="1121.70" y="765.9" text-anchor="middle" font-size="10" fill="#111" transform="translate(1121.70,0) scale(0.965,1) translate(-1121.70,0)">550.2 kW</text>
<text x="1121.70" y="601" text-anchor="middle" font-size="10.25" fill="#111">11 min</text>
<text x="1206.77" y="765.9" text-anchor="middle" font-size="10" fill="#111" transform="translate(1206.77,0) scale(0.965,1) translate(-1206.77,0)">0 kW</text>
<text x="1206.77" y="601" text-anchor="middle" font-size="10.25" fill="#111">12 min</text>
<text x="1291.84" y="765.9" text-anchor="middle" font-size="10" fill="#111" transform="translate(1291.84,0) scale(0.965,1) translate(-1291.84,0)">0 kW</text>
<text x="1291.84" y="601" text-anchor="middle" font-size="10.25" fill="#111">13 min</text>
<text x="1376.91" y="765.9" text-anchor="middle" font-size="10" fill="#111" transform="translate(1376.91,0) scale(0.965,1) translate(-1376.91,0)">0 kW</text>
<text x="1376.91" y="601" text-anchor="middle" font-size="10.25" fill="#111">14 min</text>
<text x="1461.98" y="765.9" text-anchor="middle" font-size="10" fill="#111" transform="translate(1461.98,0) scale(0.965,1) translate(-1461.98,0)">0 kW</text>
<text x="1461.98" y="601" text-anchor="middle" font-size="10.25" fill="#111">15 min</text>
</svg>
</body></html>
